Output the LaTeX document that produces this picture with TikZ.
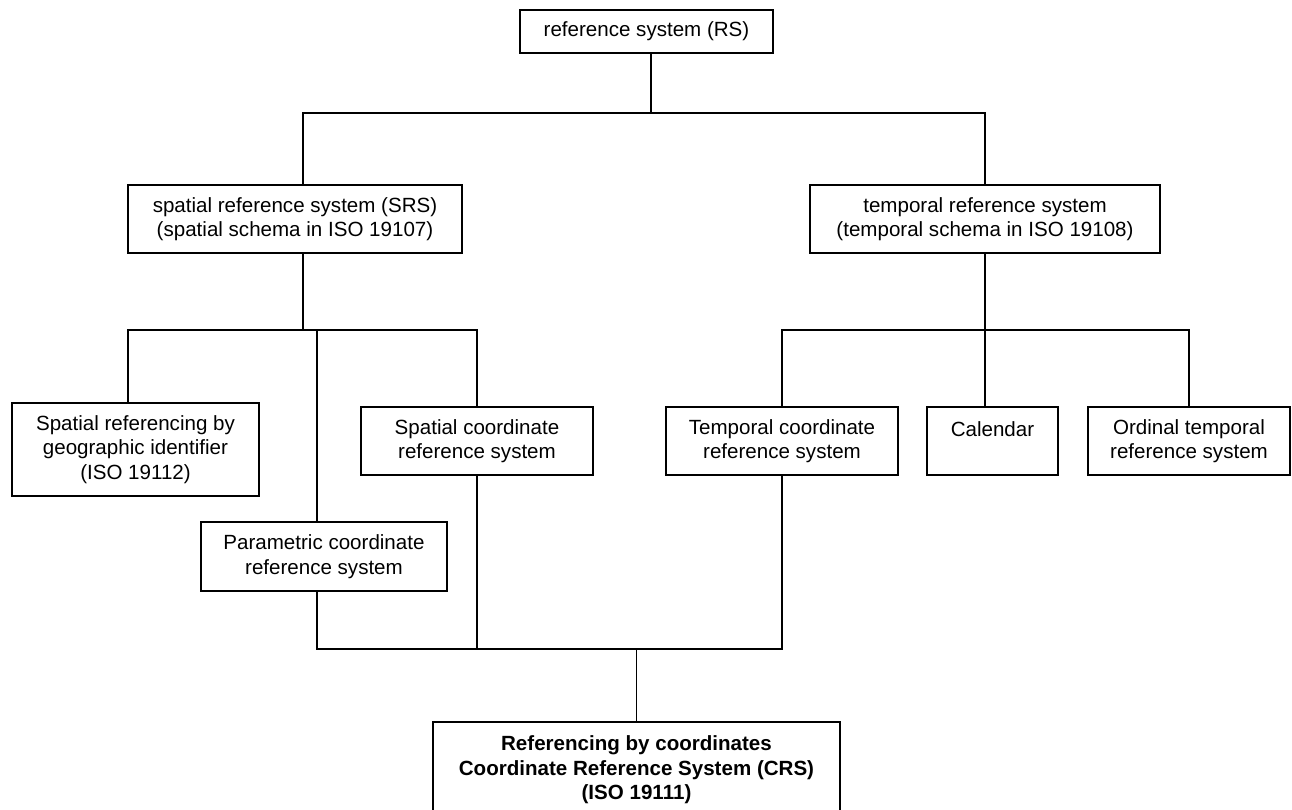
\documentclass[tikz,border=0pt]{standalone}
\usepackage{fontspec}
\setmainfont{Liberation Sans}
\usetikzlibrary{calc}

\begin{document}
\begin{tikzpicture}[x=0.02cm, y=-0.02cm,
				   every node/.style={draw=black, line width=0.8pt, align=center, inner sep=0pt, font=\fontsize{11.7}{14}\selectfont},
				   link/.style={draw=black, line width=0.8pt}]
\useasboundingbox (0,0) rectangle (1292,809);
\node[minimum width=5.06cm, minimum height=0.86cm] (rs) at (646.5,31.5) {reference system (RS)};
\node[minimum width=6.68cm, minimum height=1.36cm] (srs) at (295,219) {spatial reference system (SRS)\\(spatial schema in ISO 19107)};
\node[minimum width=7.00cm, minimum height=1.36cm] (trs) at (985,219) {temporal reference system\\(temporal schema in ISO 19108)};
\node[minimum width=4.94cm, minimum height=1.86cm] (geo) at (135.5,449.5) {Spatial referencing by\\geographic identifier\\(ISO 19112)};
\node[minimum width=4.64cm, minimum height=1.36cm] (scrs) at (477,441) {Spatial coordinate\\reference system};
\node[minimum width=4.64cm, minimum height=1.36cm] (tcrs) at (782,441) {Temporal coordinate\\reference system};
\node[minimum width=2.62cm, text height=0.58cm, text depth=0.78cm] (cal) at (992.5,441) {Calendar};
\node[minimum width=4.04cm, minimum height=1.36cm] (ord) at (1189,441) {Ordinal temporal\\reference system};
\node[minimum width=4.92cm, minimum height=1.38cm] (par) at (324,556.5) {Parametric coordinate\\reference system};
\node[minimum width=8.14cm, minimum height=1.92cm, font=\fontsize{11.7}{14}\selectfont\bfseries] (crs) at (636.5,770) {Referencing by coordinates\\Coordinate Reference System (CRS)\\(ISO 19111)};
\coordinate (top) at (0,113);
\coordinate (mid) at (0,330);
\coordinate (low) at (0,649);
\coordinate (rsx) at ($(rs.south)+(4.5,0)$);
\coordinate (srsx) at ($(srs.south)+(8,0)$);
\coordinate (geox) at ($(geo.north)+(-7.5,0)$);
\coordinate (parx) at ($(par.north)+(-7,0)$);
\coordinate (parb) at ($(par.south)+(-7,0)$);
\draw[link] (rsx) -- (rsx |- top);
\draw[link] (srsx |- srs.north) -- (srsx |- top) -- (trs.north |- top) -- (trs.north);
\draw[link] (srsx) -- (srsx |- mid);
\draw[link] (geox) -- (geox |- mid) -- (scrs.north |- mid) -- (scrs.north);
\draw[link] (parx) -- (parx |- mid);
\draw[link] (trs.south) -- (trs.south |- cal.north);
\draw[link] (tcrs.north) -- (tcrs.north |- mid) -- (ord.north |- mid) -- (ord.north);
\draw[link] (parb) -- (parb |- low) -- (tcrs.south |- low) -- (tcrs.south);
\draw[link] (scrs.south) -- (scrs.south |- low);
\draw[link] (crs.north) -- (crs.north |- low);
\end{tikzpicture}
\end{document}
